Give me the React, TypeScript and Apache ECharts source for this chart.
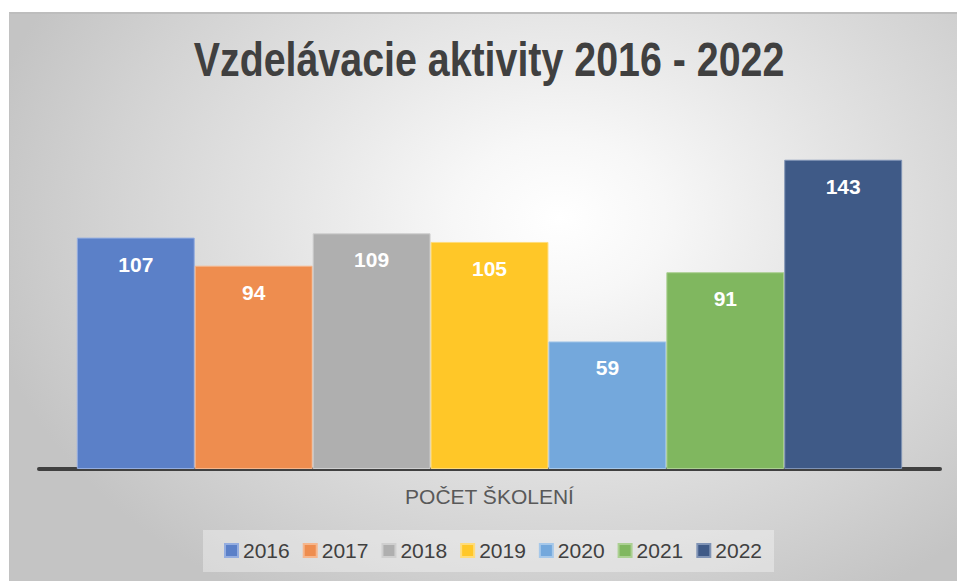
import React, { useEffect, useRef } from "react";
import * as echarts from "echarts";

const titleText = "Vzdelávacie aktivity 2016 - 2022";
const category = ["POČET ŠKOLENÍ"];
const years = ["2016", "2017", "2018", "2019", "2020", "2021", "2022"];
const values = [107, 94, 109, 105, 59, 91, 143];
const colors = ["#5b80c8", "#ee8d4f", "#afafaf", "#ffc728", "#74a8dc", "#80b75f", "#3f5a87"];
const borders = ["#94ade0", "#f6b68c", "#cfcfcf", "#ffdc7a", "#a6c8ea", "#abd092", "#7f93b5"];

const FONT = "'Liberation Sans', Arial, sans-serif";

export default function App() {
  const ref = useRef<HTMLDivElement>(null);
  useEffect(() => {
    if (!ref.current) return;
    const chart = echarts.init(ref.current, undefined, { renderer: "svg" });
    chart.setOption({
      animation: false,
      graphic: [
        {
          type: "text",
          x: 489,
          y: 35,
          scaleX: 0.82,
          style: {
            text: titleText,
            textAlign: "center",
            textVerticalAlign: "top",
            fontFamily: FONT,
            fontSize: 48,
            fontWeight: "bold",
            fill: "#404040",
          },
        },
      ],
      legend: {
        data: years,
        left: 203,
        top: 530,
        padding: [10, 12, 11, 21],
        itemWidth: 13,
        itemHeight: 13,
        itemGap: 13,
        icon: "rect",
        backgroundColor: "rgba(255,255,255,0.35)",
        textStyle: { fontFamily: FONT, fontSize: 21, color: "#404040" },
      },
      grid: { left: 39, right: 17, top: 123, bottom: 112 },
      xAxis: {
        type: "category",
        data: category,
        axisLine: { lineStyle: { color: "#404040", width: 4 } },
        axisTick: { show: false },
        axisLabel: { fontFamily: FONT, fontSize: 21, color: "#595959", margin: 17 },
      },
      yAxis: { type: "value", min: 0, max: 160, show: false, splitLine: { show: false } },
      series: years.map((y, i) => ({
        name: y,
        type: "bar",
        data: [values[i]],
        barGap: "0%",
        barCategoryGap: "8.4%",
        itemStyle: { color: colors[i], borderColor: borders[i], borderWidth: 1 },
        label: {
          show: true,
          position: "insideTop",
          distance: 16,
          color: "#ffffff",
          fontFamily: FONT,
          fontSize: 21,
          fontWeight: "bold",
        },
      })),
    });
    return () => chart.dispose();
  }, []);
  return (
    <div style={{ position: "fixed", left: 0, top: 0, width: 957, height: 581, background: "#ffffff" }}>
      <div
        style={{
          position: "absolute",
          left: 9,
          top: 12,
          width: 948,
          height: 569,
          borderTop: "2px solid #bdbdbd",
          borderLeft: "1px solid #c2c2c2",
          boxSizing: "border-box",
          background:
            "radial-gradient(ellipse 62% 78% at 58% 36%, #ffffff 0%, #f7f7f7 18%, #e4e4e4 48%, #d2d2d2 78%, #c4c4c4 100%)",
        }}
      />
      <div ref={ref} style={{ position: "absolute", left: 0, top: 0, width: 957, height: 581 }} />
    </div>
  );
}
